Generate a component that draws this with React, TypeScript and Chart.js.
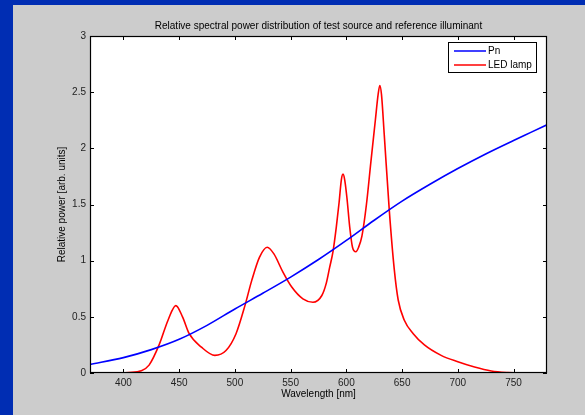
import React, { useEffect, useRef } from "react";
import { Chart, registerables } from "chart.js";

Chart.register(...registerables);

const titleText = "Relative spectral power distribution of test source and reference illuminant";
const xLabel = "Wavelength [nm]";
const yLabel = "Relative power [arb. units]";
const seriesNames = ["Pn", "LED lamp"];

const xTicks = [400, 450, 500, 550, 600, 650, 700, 750];
const yTicks = [0, 0.5, 1, 1.5, 2, 2.5, 3];

const pnWavelengths = [370, 400, 425, 450, 475, 500, 525, 550, 575, 600, 625, 650, 675, 700, 725, 750, 765, 780];
const pnValues = [0.077, 0.137, 0.208, 0.3, 0.424, 0.57, 0.71, 0.854, 1.01, 1.18, 1.36, 1.53, 1.68, 1.82, 1.95, 2.07, 2.14, 2.21];

const ledWavelengths = [
  370, 390, 405, 416, 423, 432, 440, 447, 453, 459, 470, 482, 492, 501, 509, 515, 522, 529, 535, 543,
  551, 561, 570, 578, 582, 585, 588, 591, 593.5, 595.5, 597, 598.5, 600.5, 603, 605.5, 608.5, 611, 614, 618,
  622, 626, 628.5, 630, 631.5, 634, 638.5, 643, 646.5, 652, 660, 670, 685, 700, 715, 730, 745, 752,
];
const ledValues = [
  0, 0, 0.005, 0.02, 0.07, 0.25, 0.47, 0.6, 0.5, 0.35, 0.23, 0.157, 0.2, 0.35, 0.6, 0.82, 1.03, 1.12, 1.06, 0.9,
  0.765, 0.66, 0.63, 0.69, 0.8, 0.94, 1.08, 1.3, 1.52, 1.72, 1.77, 1.72, 1.56, 1.3, 1.12, 1.08, 1.12, 1.22, 1.5,
  1.88, 2.25, 2.48, 2.56, 2.48, 2.12, 1.45, 0.92, 0.65, 0.47, 0.35, 0.25, 0.157, 0.1, 0.053, 0.018, 0.003, 0,
];

const FONT = "'Liberation Sans', Arial, Helvetica, sans-serif";

const framePlugin = {
  id: "matlabFrame",
  beforeDraw(chart: any) {
    const { ctx, chartArea: a } = chart;
    ctx.save();
    ctx.fillStyle = "#ffffff";
    ctx.fillRect(a.left, a.top, a.right - a.left, a.bottom - a.top);
    ctx.restore();
  },
  afterDraw(chart: any) {
    const { ctx, chartArea: a, scales } = chart;
    ctx.save();
    ctx.strokeStyle = "#000000";
    ctx.lineWidth = 1.2;
    ctx.strokeRect(a.left + 0.5, a.top + 0.5, a.right - a.left - 1, a.bottom - a.top - 1);
    const tl = 4;
    ctx.lineWidth = 1;
    ctx.beginPath();
    xTicks.forEach((v) => {
      const x = Math.round(scales.x.getPixelForValue(v)) + 0.5;
      ctx.moveTo(x, a.bottom);
      ctx.lineTo(x, a.bottom - tl);
      ctx.moveTo(x, a.top);
      ctx.lineTo(x, a.top + tl);
    });
    yTicks.forEach((v) => {
      const y = Math.round(scales.y.getPixelForValue(v)) + 0.5;
      ctx.moveTo(a.left, y);
      ctx.lineTo(a.left + tl, y);
      ctx.moveTo(a.right, y);
      ctx.lineTo(a.right - tl, y);
    });
    ctx.stroke();

    // legend
    const lx = 448.5, ly = 42.5, lw = 88, lh = 30;
    ctx.fillStyle = "#ffffff";
    ctx.fillRect(lx, ly, lw, lh);
    ctx.strokeStyle = "#000000";
    ctx.lineWidth = 1;
    ctx.strokeRect(lx, ly, lw, lh);
    const colors = ["#0000ff", "#ff0000"];
    const rows = [51, 65];
    ctx.font = `10px ${FONT}`;
    ctx.textBaseline = "middle";
    ctx.textAlign = "left";
    seriesNames.forEach((name, i) => {
      ctx.strokeStyle = colors[i];
      ctx.lineWidth = 1.5;
      ctx.beginPath();
      ctx.moveTo(454, rows[i]);
      ctx.lineTo(486, rows[i]);
      ctx.stroke();
      ctx.fillStyle = "#000000";
      ctx.fillText(name, 488, rows[i] + 0.5);
    });
    ctx.restore();
  },
};

export default function App() {
  const ref = useRef<HTMLCanvasElement>(null);
  useEffect(() => {
    if (!ref.current) return;
    const font = { family: FONT, size: 10, weight: "normal" as const };
    const chart = new Chart(ref.current, {
      type: "line",
      data: {
        datasets: [
          {
            label: seriesNames[0],
            data: pnWavelengths.map((x, i) => ({ x, y: pnValues[i] })),
            borderColor: "#0000ff",
            borderWidth: 1.6,
            pointRadius: 0,
            cubicInterpolationMode: "monotone",
          },
          {
            label: seriesNames[1],
            data: ledWavelengths.map((x, i) => ({ x, y: ledValues[i] })),
            borderColor: "#ff0000",
            borderWidth: 1.6,
            pointRadius: 0,
            cubicInterpolationMode: "monotone",
          },
        ],
      },
      options: {
        animation: false,
        responsive: false,
        layout: { padding: { left: 0, right: 38, top: 0, bottom: 0 } },
        plugins: {
          legend: { display: false },
          tooltip: { enabled: false },
          title: {
            display: true,
            text: titleText,
            fullSize: false,
            color: "#000000",
            font,
            padding: { top: 20, bottom: 4 },
          } as any,
        },
        scales: {
          x: {
            type: "linear",
            min: 370,
            max: 780,
            afterBuildTicks: (s: any) => {
              s.ticks = xTicks.map((v) => ({ value: v }));
            },
            afterFit: (s: any) => {
              s.height = 42;
            },
            grid: { display: false, drawTicks: false },
            border: { display: false },
            ticks: { padding: 4, font, color: "#222222", maxRotation: 0, autoSkip: false, callback: (v: any) => String(v) },
            title: { display: true, text: xLabel, font, color: "#000000", padding: { top: 0, bottom: 15 } },
          },
          y: {
            type: "linear",
            min: 0,
            max: 3,
            afterBuildTicks: (s: any) => {
              s.ticks = yTicks.map((v) => ({ value: v }));
            },
            afterFit: (s: any) => {
              s.width = 90;
            },
            grid: { display: false, drawTicks: false },
            border: { display: false },
            ticks: { padding: 4, font, color: "#222222", autoSkip: false, callback: (v: any) => String(v) },
            title: { display: true, text: yLabel, font, color: "#000000", padding: { top: 56, bottom: 0 } },
          },
        },
      },
      plugins: [framePlugin],
    });
    return () => chart.destroy();
  }, []);

  return (
    <div style={{ position: "fixed", left: 0, top: 0, width: 585, height: 415, background: "#002db3", overflow: "hidden" }}>
      <div style={{ position: "absolute", left: 13, top: 5, width: 572, height: 410, background: "#cccccc" }} />
      <canvas ref={ref} width={585} height={415} style={{ position: "absolute", left: 0, top: 0, width: 585, height: 415 }} />
    </div>
  );
}
